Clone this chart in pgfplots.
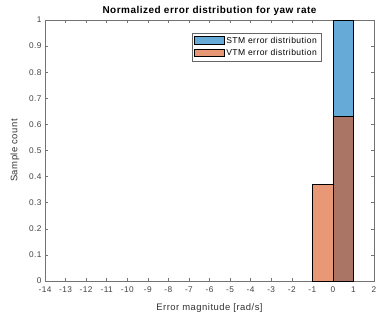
\documentclass[border=0pt]{standalone}
\usepackage{fontspec}
\setmainfont{Liberation Sans}[LetterSpace=5]
\usepackage{pgfplots}
\pgfplotsset{compat=1.18}
\definecolor{mblue}{rgb}{0,0.447,0.741}
\definecolor{morange}{rgb}{0.85,0.325,0.098}
\begin{document}
\begin{tikzpicture}[x=1bp,y=1bp]
\begin{axis}[
  at={(0,0)}, anchor=south west,
  scale only axis,
  width=329bp, height=261bp,
  xmin=-14, xmax=2, ymin=0, ymax=1,
  xtick={-14,-13,...,2},
  ytick={0,0.1,...,1},
  yticklabels={0,0.1,0.2,0.3,0.4,0.5,0.6,0.7,0.8,0.9,1},
  tick align=inside,
  major tick length=3bp,
  axis line style={black!55, line width=0.6bp},
  every tick/.style={black!55, line width=0.5bp},
  tick label style={font=\fontsize{8.3}{9}\selectfont, text=black!75},
  /pgf/number format/assume math mode=true,
  xticklabel style={yshift=-2.5bp},
  title={\bfseries Normalized error distribution for yaw rate},
  title style={font=\fontsize{10}{11}\selectfont, yshift=-5bp},
  xlabel={Error magnitude [rad/s]},
  ylabel={Sample count},
  label style={font=\fontsize{9.5}{10}\selectfont, text=black!80},
  xlabel style={yshift=-4bp},
  ylabel style={yshift=3bp},
  legend style={at={(0.839,0.95)}, anchor=north east, font=\fontsize{8.6}{9.5}\selectfont,
    draw=black!60, line width=0.5bp, inner sep=2bp, row sep=0.5bp},
  legend cell align=left,
  legend image code/.code={\draw[#1, draw=black, line width=0.5bp] (0cm,-3bp) rectangle (30bp,4.5bp);},
]
\addplot[ybar interval, fill=mblue, fill opacity=0.6, draw=black, line width=0.6bp] coordinates {(0,1) (1,1)};
\addlegendentry{STM error distribution}
\addplot[ybar interval, fill=morange, fill opacity=0.6, draw=black, line width=0.6bp] coordinates {(-1,0.37) (0,0.63) (1,0.63)};
\addlegendentry{VTM error distribution}
\end{axis}
\pgfresetboundingbox
\path[use as bounding box] (-45bp,-40bp) rectangle (333bp,281bp);
\end{tikzpicture}
\end{document}
